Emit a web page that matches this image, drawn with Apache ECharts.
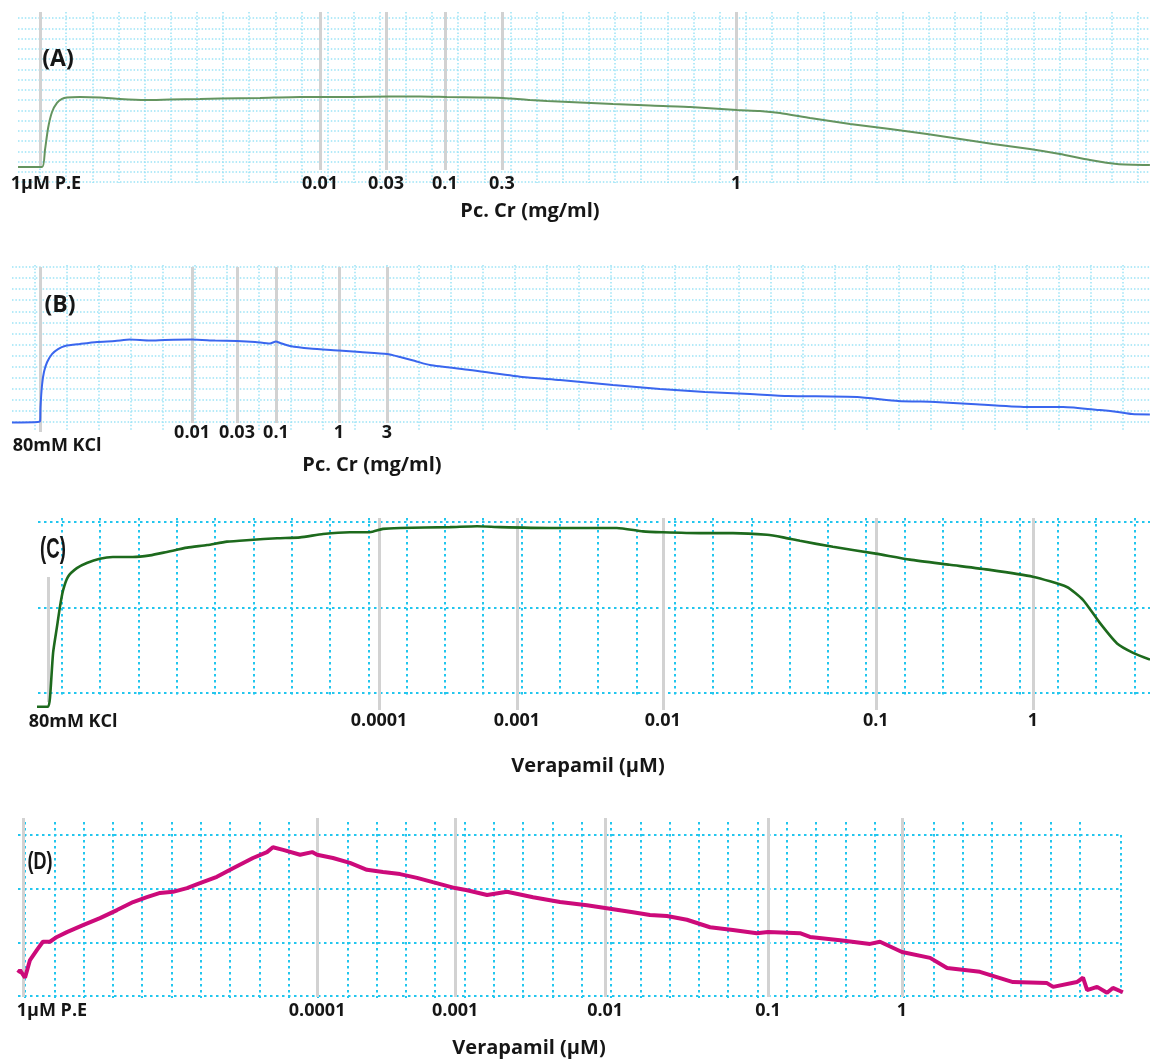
<!DOCTYPE html>
<html>
<head>
<meta charset="utf-8">
<script src="https://cdn.jsdelivr.net/npm/echarts@6/dist/echarts.min.js"></script>
<style>
  html, body { margin: 0; padding: 0; background: #ffffff; }
  #chart { width: 1150px; height: 1061px; }
</style>
</head>
<body>
<div id="chart"></div>
<script>
// ---- Recorded traces: time in chart divisions, tension in chart rows ----

// (A) 1 µM phenylephrine, cumulative Pc.Cr
const timeA = [-0.84,0.08,0.19,0.31,0.46,0.65,0.84,1.03,1.53,2.30,3.06,4.02,4.97,6.12,6.89,8.42,9.95,11.86,13.39,14.54,15.57,16.83,17.71,18.75,19.40,20.66,21.92,23.34,24.87,26.66,27.54,28.31,29.46,30.99,32.52,33.93,35.20,36.46,37.87,39.02,40.17,41.20,42.46];
const tensionA = [1.46,1.46,3.12,5.27,6.83,7.71,8.10,8.24,8.29,8.24,8.10,8.00,8.05,8.10,8.15,8.20,8.29,8.29,8.34,8.34,8.29,8.24,8.20,8.00,7.90,7.76,7.61,7.46,7.32,7.02,6.93,6.73,6.24,5.66,5.17,4.68,4.20,3.71,3.22,2.73,2.15,1.76,1.66];
const agentA = '1µM P.E';
const agentTimeA = 0;
const dosesA = ['0.01', '0.03', '0.1', '0.3', '1'];
const doseTimesA = [10.71, 13.24, 15.49, 17.67, 26.63];

// (B) 80 mM KCl, cumulative Pc.Cr
const timeB = [-0.72,0.09,0.16,0.17,0.22,0.28,0.38,0.53,0.72,0.94,1.41,1.94,2.50,2.97,3.59,4.06,4.91,5.63,6.31,6.88,7.34,7.53,7.66,7.97,8.59,9.50,10.16,11.0,11.41,11.88,12.34,13.59,15.22,16.41,18.06,19.53,20.94,22.34,23.53,25.69,26.97,28.13,29.25,30.97,32.13,33.28,33.84,34.28,34.84];
const tensionB = [-0.05,0,0.09,1.26,3.34,4.52,5.42,6.14,6.59,6.87,7.05,7.23,7.32,7.45,7.36,7.41,7.45,7.36,7.32,7.23,7.09,7.27,7.14,6.87,6.64,6.46,6.32,6.14,5.87,5.51,5.15,4.70,4.07,3.79,3.34,2.98,2.71,2.53,2.35,2.26,1.90,1.81,1.63,1.36,1.36,1.08,0.90,0.72,0.68];
const agentB = '80mM KCl';
const agentTimeB = 0.16;
const dosesB = ['0.01', '0.03', '0.1', '1', '3'];
const doseTimesB = [4.91, 6.31, 7.53, 9.50, 11.0];

// (C) 80 mM KCl, cumulative verapamil
const timeC = [-8.65,-8.36,-8.31,-8.23,-8.13,-8.05,-7.97,-7.84,-7.61,-7.35,-7.01,-6.67,-6.15,-5.70,-5.26,-4.73,-4.21,-3.69,-3.09,-2.38,-1.78,-1.18,-0.48,0.04,0.38,0.83,2.13,2.84,3.44,4.74,6.49,7.17,7.69,8.66,9.52,10.41,10.83,11.27,12.13,13.25,14.14,15.18,16.23,17.35,18.24,18.66,19.10,19.55,19.97,20.41];
const tensionC = [-0.16,-0.16,-0.05,0.47,0.77,1.01,1.20,1.36,1.46,1.52,1.57,1.59,1.59,1.61,1.65,1.70,1.73,1.77,1.79,1.81,1.82,1.86,1.88,1.88,1.92,1.93,1.94,1.95,1.94,1.93,1.93,1.89,1.88,1.87,1.87,1.85,1.82,1.78,1.71,1.63,1.56,1.50,1.44,1.36,1.24,1.09,0.82,0.58,0.47,0.39];
const agentC = '80mM KCl';
const agentTimeC = -8.36;
const dosesC = ['0.0001', '0.001', '0.01', '0.1', '1'];
const doseTimesC = [0.28, 3.88, 7.69, 13.25, 17.35];

// (D) 1 µM phenylephrine, cumulative verapamil
const timeD = [-0.24,-0.17,0,0.17,0.41,0.61,0.85,1.09,1.43,1.98,2.56,3.14,3.69,4.16,4.61,5.05,5.53,5.97,6.55,7.10,7.78,8.26,8.46,8.81,9.39,9.80,9.97,10.51,11.09,11.67,12.22,12.80,13.38,13.92,14.68,15.09,15.77,16.45,17.34,18.26,19.18,19.80,20.75,21.33,21.91,22.59,23.38,24.16,24.98,25.36,26.45,26.79,27.82,28.84,29.18,29.93,30.89,31.47,32.59,33.72,34.88,35.09,35.90,36.11,36.25,36.59,36.93,37.13,37.47];
const tensionD = [0.43,0.48,0.34,0.67,0.86,1.01,1.01,1.10,1.19,1.32,1.45,1.60,1.75,1.84,1.92,1.94,2.01,2.10,2.22,2.38,2.57,2.68,2.77,2.72,2.63,2.68,2.63,2.57,2.48,2.35,2.31,2.27,2.20,2.12,2.01,1.97,1.88,1.94,1.84,1.75,1.69,1.64,1.56,1.51,1.49,1.42,1.28,1.23,1.17,1.19,1.17,1.10,1.04,0.97,1.01,0.82,0.71,0.52,0.45,0.26,0.24,0.17,0.26,0.34,0.11,0.17,0.06,0.15,0.07];
const agentD = '1µM P.E';
const agentTimeD = -0.07;
const dosesD = ['0.0001', '0.001', '0.01', '0.1', '1'];
const doseTimesD = [9.97, 14.68, 19.80, 25.36, 29.93];

// ---- Page layout (pixels) and styles for each recorder strip ----
const fine = { color: '#9ce3f6', width: 1.5, type: [1.5, 1.9] };
const coarse = { color: '#22c6ee', width: 2, type: [2.5, 3.5] };
const labelFont = 'bold 18px "Open Sans"';
const axisFont = 'bold 20px "Open Sans"';

const panels = [
  {
    time: timeA, tension: tensionA, agent: agentA, agentTime: agentTimeA, doses: dosesA, doseTimes: doseTimesA,
    color: '#64945f', width: 2, smooth: 0.2, ruling: fine,
    origin: [40, 182], unit: [26.14, 10.25], box: [0, 0, 1150, 205],
    vLines: { from: 0, to: 42, top: 12, bottom: 183 },
    hLines: { rows: 16, left: 18, right: 1150 },
    agentSpan: [12, 167], doseSpan: [12, 170],
    labelY: 184, agentLabel: { dx: 6, y: 184 },
    title: { text: '(A)', x: 58, y: 59, font: 'bold 23px "Open Sans"', scaleX: 1 },
    axisName: { text: 'Pc. Cr (mg/ml)', x: 530, y: 211 }
  },
  {
    time: timeB, tension: tensionB, agent: agentB, agentTime: agentTimeB, doses: dosesB, doseTimes: doseTimesB,
    color: '#3a66ee', width: 2, smooth: 0.2, ruling: fine,
    origin: [35, 422], unit: [32, 11.07], box: [0, 240, 1150, 215],
    vLines: { from: 0, to: 34, top: 265, bottom: 430 },
    hLines: { rows: 14, left: 12, right: 1150 },
    agentSpan: [267, 432], doseSpan: [267, 423],
    labelY: 433, agentLabel: { dx: 17, y: 446 },
    title: { text: '(B)', x: 60, y: 305, font: 'bold 23px "Open Sans"', scaleX: 1 },
    axisName: { text: 'Pc. Cr (mg/ml)', x: 372, y: 465 }
  },
  {
    time: timeC, tension: tensionC, agent: agentC, agentTime: agentTimeC, doses: dosesC, doseTimes: doseTimesC,
    color: '#1d6a1d', width: 2.6, smooth: 0.2, ruling: coarse,
    origin: [368.3, 693], unit: [38.3, 85.5], box: [0, 490, 1150, 250],
    vLines: { from: -8, to: 20, top: 518, bottom: 697 },
    hLines: { rows: 2, left: 38, right: 1150 },
    agentSpan: [577, 702], doseSpan: [518, 710],
    labelY: 721, agentLabel: { dx: 25, y: 722 },
    title: { text: '(C)', x: 53, y: 550, font: 'bold 30px "Liberation Sans"', scaleX: 0.62 },
    axisName: { text: 'Verapamil (µM)', x: 588, y: 766 }
  },
  {
    time: timeD, tension: tensionD, agent: agentD, agentTime: agentTimeD, doses: dosesD, doseTimes: doseTimesD,
    color: '#cc0a7a', width: 4, smooth: false, ruling: coarse,
    origin: [25, 996], unit: [29.3, 53.7], box: [0, 800, 1150, 230],
    vLines: { from: 0, to: 36, top: 822, bottom: 998 },
    hLines: { rows: 3, left: 18, right: 1121, edge: true },
    agentSpan: [818, 997], doseSpan: [818, 997],
    labelY: 1011, agentLabel: { dx: 29, y: 1011 },
    title: { text: '(D)', x: 40, y: 862, font: 'bold 24px "Liberation Sans"', scaleX: 0.75 },
    axisName: { text: 'Verapamil (µM)', x: 529, y: 1048 }
  }
];

const grid = [], xAxis = [], yAxis = [], series = [];
const bare = { axisLine: { show: false }, axisTick: { show: false }, axisLabel: { show: false } };

panels.forEach((p, i) => {
  const [ox, oy] = p.origin, [sx, sy] = p.unit;
  const toT = px => (px - ox) / sx;
  const toY = py => (oy - py) / sy;
  const g = i * 3;
  const rule = { color: p.ruling.color, width: p.ruling.width, type: p.ruling.type };

  // vertical chart-paper rulings
  grid.push({ left: ox + p.vLines.from * sx, top: p.vLines.top,
              width: (p.vLines.to - p.vLines.from) * sx, height: p.vLines.bottom - p.vLines.top });
  xAxis.push(Object.assign({ gridIndex: g, type: 'value', min: p.vLines.from, max: p.vLines.to, interval: 1,
    splitLine: { show: true, lineStyle: rule } }, bare));
  yAxis.push({ gridIndex: g, type: 'value', min: 0, max: 1, show: false });

  // horizontal chart-paper rulings
  grid.push({ left: p.hLines.left, top: oy - p.hLines.rows * sy,
              width: p.hLines.right - p.hLines.left, height: p.hLines.rows * sy });
  if (p.hLines.edge) {
    xAxis.push(Object.assign({ gridIndex: g + 1, type: 'value', min: 0, max: 1, interval: 1,
      splitLine: { show: true, showMinLine: false, showMaxLine: true, lineStyle: rule } }, bare));
  } else {
    xAxis.push({ gridIndex: g + 1, type: 'value', min: 0, max: 1, show: false });
  }
  yAxis.push(Object.assign({ gridIndex: g + 1, type: 'value', min: 0, max: p.hLines.rows, interval: 1,
    splitLine: { show: true, lineStyle: rule } }, bare));

  // trace area covering the whole strip, same scale as the rulings
  const [bl, bt, bw, bh] = p.box;
  grid.push({ left: bl, top: bt, width: bw, height: bh });
  xAxis.push({ gridIndex: g + 2, type: 'value', min: toT(bl), max: toT(bl + bw), show: false });
  yAxis.push({ gridIndex: g + 2, type: 'value', min: toY(bt + bh), max: toY(bt), show: false });

  // grey event markers (agent + each cumulative dose)
  const marks = [[{ coord: [p.agentTime, toY(p.agentSpan[0])] }, { coord: [p.agentTime, toY(p.agentSpan[1])] }]];
  p.doseTimes.forEach(t => marks.push([{ coord: [t, toY(p.doseSpan[0])] }, { coord: [t, toY(p.doseSpan[1])] }]));

  series.push({
    type: 'line', xAxisIndex: g + 2, yAxisIndex: g + 2,
    data: p.time.map((t, k) => [t, p.tension[k]]),
    showSymbol: false, smooth: p.smooth, z: 3,
    lineStyle: { color: p.color, width: p.width },
    markLine: {
      silent: true, symbol: 'none', z: 1, animation: false,
      label: { show: false },
      lineStyle: { color: '#d2d2d2', width: 3, type: 'solid' },
      data: marks
    }
  });
});

const chart = echarts.init(document.getElementById('chart'));
chart.setOption({ animation: false, grid, xAxis, yAxis, series });

// text: dose labels under each marker, agent names, strip titles, axis names
const graphic = [];
const txt = (text, x, y, font, extra) => Object.assign({
  type: 'text', x, y, silent: true,
  style: { text, x: 0, y: 0, textAlign: 'center', textVerticalAlign: 'middle', font, fill: '#161616' }
}, extra || {});

panels.forEach((p, i) => {
  const g = i * 3 + 2;
  const px = t => chart.convertToPixel({ gridIndex: g }, [t, 0])[0];
  p.doses.forEach((d, k) => graphic.push(txt(d, px(p.doseTimes[k]), p.labelY, labelFont)));
  graphic.push(txt(p.agent, px(p.agentTime) + p.agentLabel.dx, p.agentLabel.y, labelFont));
  graphic.push(txt(p.title.text, p.title.x, p.title.y, p.title.font, { scaleX: p.title.scaleX }));
  graphic.push(txt(p.axisName.text, p.axisName.x, p.axisName.y, axisFont));
});

chart.setOption({ graphic });
</script>
</body>
</html>
